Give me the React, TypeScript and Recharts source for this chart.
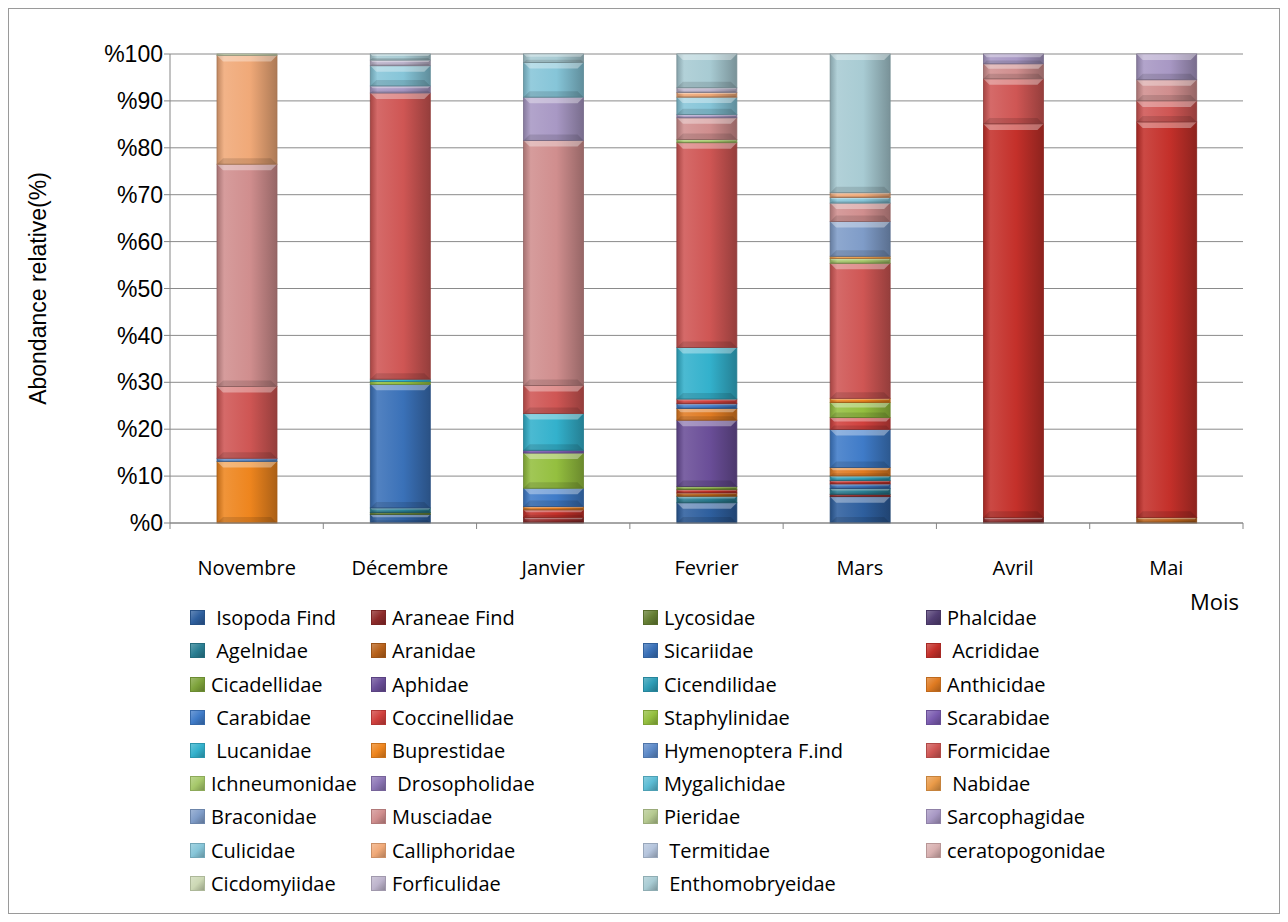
import React from "react";
import { BarChart, Bar, XAxis, YAxis, CartesianGrid, Label } from "recharts";

// months on the x axis
const months = ["Novembre", "Décembre", "Janvier", "Fevrier", "Mars", "Avril", "Mai"];

// legend labels, in stacking order (bottom to top)
const species = [
  " Isopoda Find", "Araneae Find", "Lycosidae", "Phalcidae",
  " Agelnidae", "Aranidae", "Sicariidae", " Acrididae",
  "Cicadellidae", "Aphidae", "Cicendilidae", "Anthicidae",
  " Carabidae", "Coccinellidae", "Staphylinidae", "Scarabidae",
  " Lucanidae", "Buprestidae", "Hymenoptera F.ind", "Formicidae",
  "Ichneumonidae", " Drosopholidae", "Mygalichidae", " Nabidae",
  "Braconidae", "Musciadae", "Pieridae", "Sarcophagidae",
  "Culicidae", "Calliphoridae", " Termitidae", "ceratopogonidae",
  "Cicdomyiidae", "Forficulidae", " Enthomobryeidae",
];

const colors = [
  "#2E5F9E", "#8E2B2A", "#657F33", "#533F74",
  "#2A7F93", "#B8621B", "#3A71B8", "#C4302A",
  "#7EA33B", "#6A4E98", "#2E9DB6", "#E07B22",
  "#3F7BC8", "#D0403D", "#94BF3F", "#7B5CB0",
  "#33B1CC", "#EE851E", "#5D8AC8", "#CF5654",
  "#A6C86A", "#8C76B5", "#5CBCD4", "#E99A48",
  "#7F9CC8", "#D08E8E", "#B5C990", "#A898C4",
  "#86C5D8", "#F0A978", "#B4C4DC", "#D8B0B0",
  "#CCD8B4", "#BDB4CC", "#A8CBD3",
];

// relative abundance (%) per month
const novembre: Record<string, number> = {
  Buprestidae: 13.1, "Hymenoptera F.ind": 0.7, Formicidae: 15.3,
  Musciadae: 47.4, Calliphoridae: 23.2, Cicdomyiidae: 0.3,
};
const decembre: Record<string, number> = {
  "Isopoda Find": 1.8, Lycosidae: 0.4, Agelnidae: 1.0, Sicariidae: 26.3,
  Staphylinidae: 0.6, Lucanidae: 0.5, Formicidae: 60.9, Sarcophagidae: 1.5,
  Culicidae: 4.3, Forficulidae: 1.2, Enthomobryeidae: 1.3,
};
const janvier: Record<string, number> = {
  "Araneae Find": 1.2, Acrididae: 1.6, Anthicidae: 0.7, Carabidae: 3.9,
  Staphylinidae: 7.5, Scarabidae: 0.6, Lucanidae: 7.8, Formicidae: 6.0,
  Musciadae: 52.2, Sarcophagidae: 9.2, Culicidae: 7.4, Enthomobryeidae: 1.8,
};
const fevrier: Record<string, number> = {
  "Isopoda Find": 4.3, Agelnidae: 1.4, Aranidae: 0.7, Acrididae: 0.7,
  Cicadellidae: 0.7, Aphidae: 14.1, Anthicidae: 2.5, Carabidae: 1.0,
  Coccinellidae: 1.0, Lucanidae: 11.0, Formicidae: 43.6, Ichneumonidae: 0.7,
  Musciadae: 4.6, Sarcophagidae: 0.7, Culicidae: 3.7, Calliphoridae: 1.0,
  Forficulidae: 1.0, Enthomobryeidae: 7.2,
};
const mars: Record<string, number> = {
  "Isopoda Find": 5.6, "Araneae Find": 0.5, Agelnidae: 1.2, Sicariidae: 1.0,
  Acrididae: 0.7, Cicendilidae: 1.0, Anthicidae: 1.8, Carabidae: 8.1,
  Coccinellidae: 2.5, Staphylinidae: 3.2, Buprestidae: 0.9, Formicidae: 28.7,
  Ichneumonidae: 1.0, Nabidae: 0.5, Braconidae: 7.4, Musciadae: 3.9,
  Culicidae: 1.2, Calliphoridae: 1.0, Enthomobryeidae: 29.5,
};
const avril: Record<string, number> = {
  "Araneae Find": 1.2, Acrididae: 83.9, Formicidae: 9.6,
  Musciadae: 3.2, Sarcophagidae: 2.1,
};
const mai: Record<string, number> = {
  Aranidae: 1.2, Acrididae: 84.3, Formicidae: 4.5,
  Musciadae: 4.5, Sarcophagidae: 5.5,
};

const monthValues = [novembre, decembre, janvier, fevrier, mars, avril, mai];
const yTicks = [0, 0.1, 0.2, 0.3, 0.4, 0.5, 0.6, 0.7, 0.8, 0.9, 1];

const data = months.map((mois, m) => {
  const row: Record<string, any> = { mois };
  species.forEach((s, i) => {
    row["sp" + i] = monthValues[m][s.trim()] ?? 0;
  });
  return row;
});

const W = 1270;
const H = 904;
const margin = { top: 45, right: 36, left: 11, bottom: 350 };
const yAxisWidth = 150;
const plotWidth = W - margin.left - margin.right - yAxisWidth;
const step = plotWidth / months.length;

const shade = (hex: string, f: number) => {
  const n = parseInt(hex.slice(1), 16);
  const t = f < 0 ? 0 : 255;
  const p = Math.abs(f);
  const mix = (c: number) => Math.round((t - c) * p + c);
  return `rgb(${mix(n >> 16)},${mix((n >> 8) & 255)},${mix(n & 255)})`;
};

// segment with a light bevel on top, like the office 3D style
const BevelBar = (props: any) => {
  const { x, y, width, height, idx } = props;
  if (!height || height < 0.3) return null;
  const c = colors[idx];
  const b = Math.min(6, height / 3, width / 6);
  return (
    <g>
      <rect x={x} y={y} width={width} height={height} fill={`url(#grad${idx})`}
        stroke={shade(c, -0.3)} strokeWidth={0.8} />
      {b > 1 && (
        <polygon
          points={`${x},${y} ${x + width},${y} ${x + width - b},${y + b} ${x + b},${y + b}`}
          fill="#ffffff" fillOpacity={0.35} />
      )}
      {b > 1 && (
        <polygon
          points={`${x},${y + height} ${x + width},${y + height} ${x + width - b},${y + height - b} ${x + b},${y + height - b}`}
          fill="#000000" fillOpacity={0.12} />
      )}
    </g>
  );
};

const MonthTick = (props: any) => {
  const { x, y, payload, index } = props;
  const left = x - step / 2;
  const right = x + step / 2;
  return (
    <g>
      <line x1={left} y1={y} x2={left} y2={y + 6} stroke="#868686" />
      {index === months.length - 1 && (
        <line x1={right} y1={y} x2={right} y2={y + 6} stroke="#868686" />
      )}
      <text x={x} y={y + 44} textAnchor="middle" dominantBaseline="central"
        fontFamily="'Open Sans', sans-serif" fontSize={20} fill="#000">
        {payload.value}
      </text>
    </g>
  );
};

const legendCols = [190, 371, 643, 926];

export default function App() {
  return (
    <div style={{ position: "relative", width: W, height: H, border: "1px solid #9a9a9a", background: "#fff" }}>
      <BarChart width={W} height={H} data={data} margin={margin} stackOffset="expand" barSize={60}>
        <defs>
          {colors.map((c, i) => (
            <linearGradient key={i} id={`grad${i}`} x1="0" y1="0" x2="1" y2="0">
              <stop offset="0%" stopColor={shade(c, -0.2)} />
              <stop offset="12%" stopColor={shade(c, 0.12)} />
              <stop offset="55%" stopColor={c} />
              <stop offset="100%" stopColor={shade(c, -0.28)} />
            </linearGradient>
          ))}
        </defs>
        <CartesianGrid vertical={false} stroke="#8a8a8a" />
        <XAxis dataKey="mois" tick={<MonthTick />} tickLine={false} tickSize={0} tickMargin={0}
          axisLine={{ stroke: "#868686" }} height={40} interval={0} />
        <YAxis width={yAxisWidth} domain={[0, 1]} ticks={yTicks} interval={0}
          tickFormatter={(v: number) => "%" + Math.round(v * 100)}
          tick={{ fontFamily: "'Liberation Sans', Arial, sans-serif", fontSize: 23, fill: "#000" }}
          tickSize={6} tickMargin={1}
          axisLine={{ stroke: "#868686" }} tickLine={{ stroke: "#868686" }}>
          <Label
            content={(p: any) => {
              const vb = p.viewBox;
              const cx = vb.x + 18;
              const cy = vb.y + vb.height / 2;
              return (
                <text x={cx} y={cy} transform={`rotate(-90 ${cx} ${cy})`} textAnchor="middle"
                  dominantBaseline="central" fontFamily="'Liberation Sans', Arial, sans-serif"
                  fontSize={23} fill="#000">
                  Abondance relative(%)
                </text>
              );
            }}
          />
        </YAxis>
        {species.map((s, i) => (
          <Bar key={i} dataKey={"sp" + i} name={s} stackId="a" fill={colors[i]}
            isAnimationActive={false}
            shape={(p: any) => <BevelBar {...p} idx={i} />} />
        ))}
      </BarChart>

      <div style={{ position: "absolute", left: 1181, top: 577, fontFamily: "'Open Sans', sans-serif", fontSize: 22 }}>
        Mois
      </div>

      {species.map((s, i) => {
        const col = i % 4;
        const row = Math.floor(i / 4);
        const c = colors[i];
        return (
          <div key={i} style={{
            position: "absolute", left: legendCols[col] - 9, top: 596.7 + row * 33.2,
            display: "flex", alignItems: "center", height: 24,
            fontFamily: "'Open Sans', sans-serif", fontSize: 20, whiteSpace: "pre", color: "#000",
          }}>
            <span style={{
              display: "inline-block", width: 13, height: 13, marginRight: 6,
              background: `linear-gradient(135deg, ${shade(c, 0.25)}, ${c} 50%, ${shade(c, -0.25)})`,
              border: `1px solid ${shade(c, -0.15)}`,
            }} />
            {s}
          </div>
        );
      })}
    </div>
  );
}
